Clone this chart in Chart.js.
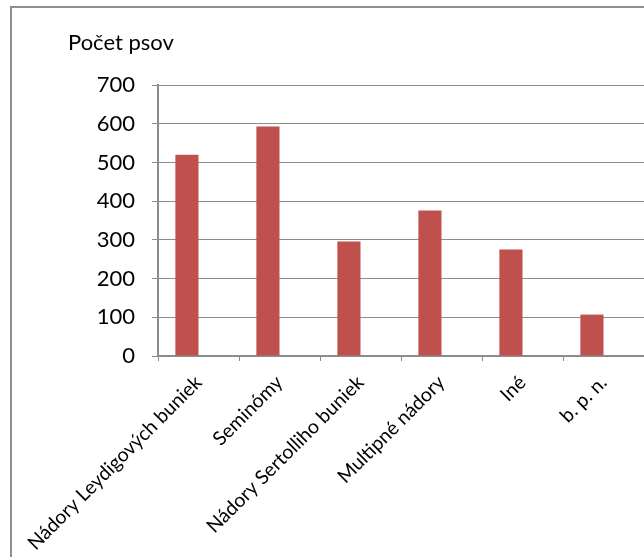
<!DOCTYPE html>
<html>
<head>
<meta charset="utf-8">
<script src="https://cdn.jsdelivr.net/npm/chart.js@4"></script>
<style>
    html, body { margin: 0; padding: 0; background: #fff; overflow: hidden; }
    .wrap { position: relative; width: 644px; height: 557px; }
    .frame {
        position: absolute; left: 10px; top: 6px;
        width: 800px; height: 800px;
        border: 2px solid #8e8e8e;
    }
    canvas { position: absolute; left: 0; top: 0; }
</style>
</head>
<body>
<div class="wrap">
    <div class="frame"></div>
    <canvas id="chart" width="644" height="557"></canvas>
</div>
<script>
    // 데이터
    const categories = ['Nádory Leydigových buniek', 'Seminómy', 'Nádory Sertolliho buniek', 'Multipné nádory', 'Iné', 'b. p. n.'];
    const counts = [520, 593, 296, 376, 275, 107];
    const emptySeries = [null, null, null, null, null, null];
    const yTitle = 'Počet psov';

    const gridColor = '#8c8c8c';
    const font = 'Lato';

    // y축 제목 그리기
    const yTitlePlugin = {
        id: 'yTitle',
        afterDraw(chart) {
            const ctx = chart.ctx;
            const area = chart.chartArea;
            ctx.save();
            ctx.font = '22px ' + font;
            ctx.fillStyle = '#000';
            ctx.textAlign = 'left';
            ctx.textBaseline = 'alphabetic';
            ctx.fillText(yTitle, area.left - 90, area.top - 35);
            ctx.restore();
        }
    };

    new Chart(document.getElementById('chart'), {
        type: 'bar',
        data: {
            labels: categories,
            datasets: [
                { data: counts, backgroundColor: '#C0504D', categoryPercentage: 0.571, barPercentage: 1 },
                { data: emptySeries, backgroundColor: '#4F81BD', categoryPercentage: 0.571, barPercentage: 1 }
            ]
        },
        options: {
            responsive: false,
            animation: false,
            layout: { padding: { top: 85, right: 0, left: 0, bottom: 0 } },
            plugins: {
                legend: { display: false },
                tooltip: { enabled: false }
            },
            scales: {
                x: {
                    grid: {
                        offset: true,
                        drawOnChartArea: false,
                        drawTicks: true,
                        tickLength: 5,
                        color: gridColor
                    },
                    border: { color: gridColor, width: 2 },
                    ticks: {
                        font: { family: font, size: 19.5 },
                        color: '#000',
                        maxRotation: 45,
                        minRotation: 45,
                        padding: 10
                    },
                    afterFit(scale) { scale.height = 201; }
                },
                y: {
                    min: 0,
                    max: 700,
                    grid: {
                        color: gridColor,
                        tickLength: 6
                    },
                    border: { color: gridColor, width: 2 },
                    ticks: {
                        stepSize: 100,
                        font: { family: font, size: 22 },
                        color: '#000',
                        padding: 17
                    },
                    afterFit(scale) { scale.width = 158; }
                }
            }
        },
        plugins: [yTitlePlugin]
    });
</script>
</body>
</html>
